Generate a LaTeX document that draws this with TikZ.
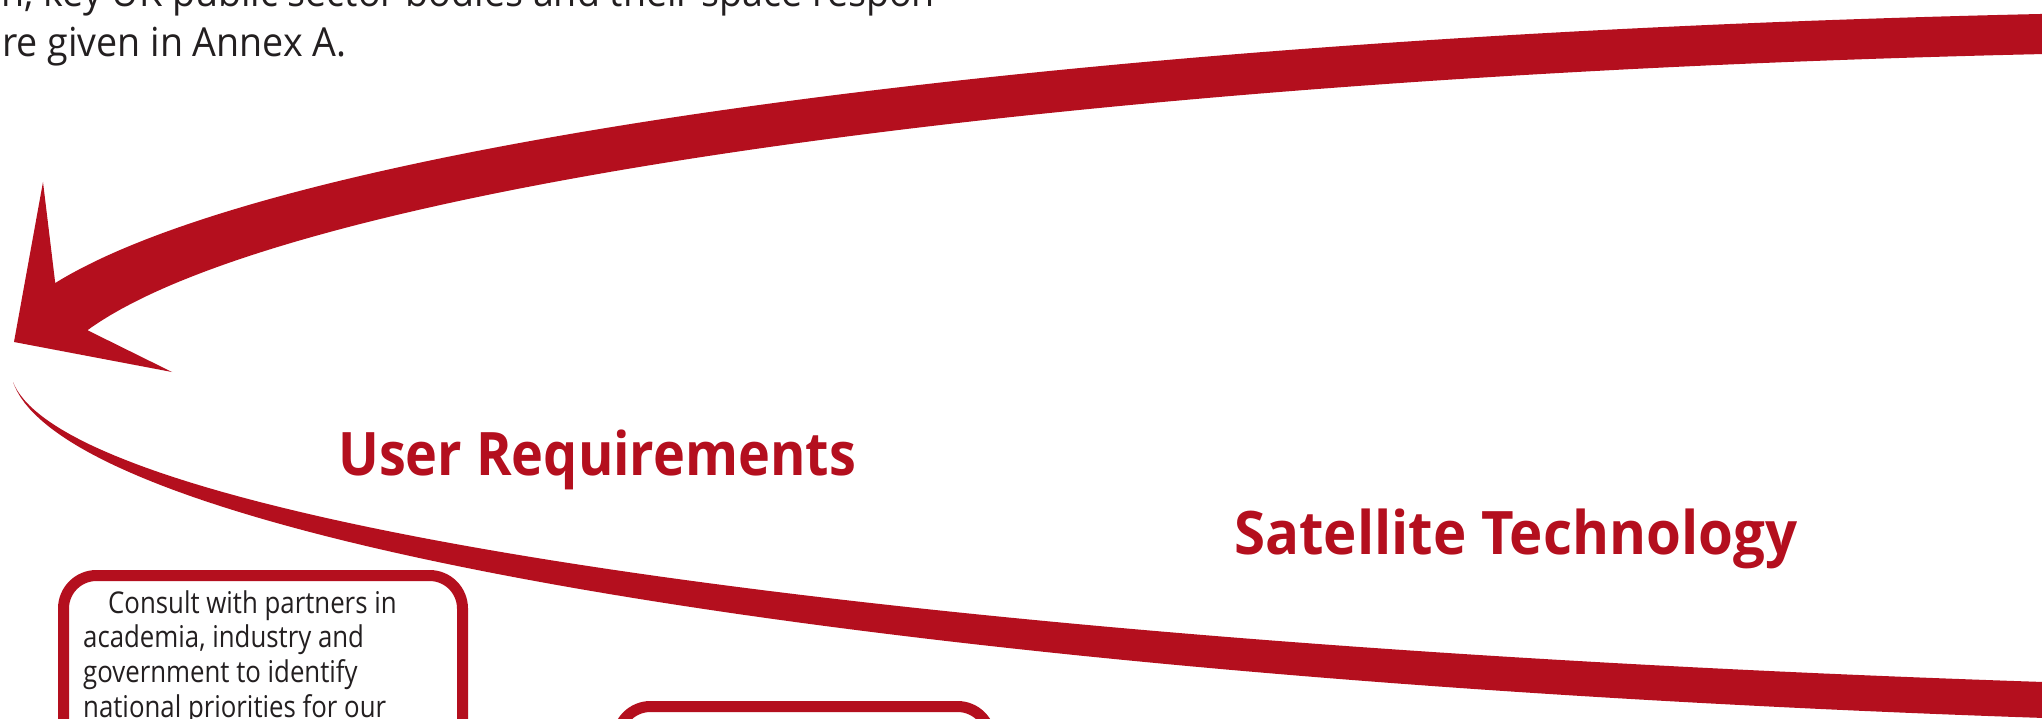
\documentclass[tikz,border=0pt]{standalone}
\usepackage{fontspec}
\setmainfont{Open Sans}
\newfontfamily\bodyfont[FakeStretch=0.86]{Open Sans}
\newfontfamily\topfont[FakeStretch=0.94]{Open Sans}
\newfontfamily\headfontA[FakeStretch=0.90]{Open Sans}
\newfontfamily\headfontB[FakeStretch=0.94]{Open Sans}
\definecolor{brandred}{RGB}{180,15,30}
\definecolor{inkgray}{RGB}{35,31,32}
\tikzset{
  bandfill/.style={fill=brandred, draw=none},
  roundbox/.style={draw=brandred, line width=11, rounded corners=33, fill=none,
    inner sep=0, outer sep=0, anchor=north west},
  toptext/.style={anchor=base west, inner sep=0, text=inkgray,
    font=\topfont\fontsize{40}{50}\selectfont},
  boxtext/.style={anchor=base west, inner sep=0, text=inkgray,
    font=\bodyfont\fontsize{30}{35}\selectfont},
  headline/.style={anchor=base west, inner sep=0, text=brandred}
}
\begin{document}
\begin{tikzpicture}[x=1pt, y=-1pt]
\useasboundingbox (0,0) rectangle (2042,719);
\clip (0,0) rectangle (2042,719);
\fill[white] (0,0) rectangle (2042,719);

% top text
\node[toptext] (t1) at (-8,7) {in, key UK public sector bodies and their space respon};
\node[toptext] (t2) at (2,57) {re given in Annex A.};

% upper sweeping band with arrowhead
\fill[bandfill]
  plot[domain=0:69.5, samples=140] ({2400-2410*cos(82.85-\x)}, {365-355*sin(82.85-\x)})
  -- (43,182) -- (14,342) -- (172,372)
  -- plot[domain=11.5:82.7, samples=140] ({2400-2360*cos(\x)}, {400-350*sin(\x)})
  -- cycle;

% lower tapering band
\fill[bandfill]
  plot[domain=2.7:77.5, samples=160] ({2700-2690*cos(\x)}, {365+364*sin(\x)})
  -- plot[domain=2.7:77.5, samples=160] ({2700-2690*cos(80.2-\x)}, {365+364*sin(80.2-\x)-36*sin(1.2*(77.5-\x))})
  -- cycle;

% headings
\node[headline, font=\headfontA\bfseries\fontsize{60}{70}\selectfont] (user) at (338,475) {User Requirements};
\node[headline, font=\headfontB\bfseries\fontsize{60}{70}\selectfont] (sat) at (1234,554) {Satellite Technology};

% boxes
\node[roundbox, minimum width=399, minimum height=300] (consult) at (63.5,575.5) {};
\node[roundbox, minimum width=373, minimum height=300] (second) at (617.5,706.5) {};

% box text
\node[boxtext] (c1) at (108,613) {Consult with partners in};
\node[boxtext] (c2) at (83,647) {academia, industry and};
\node[boxtext] (c3) at (83,682) {government to identify};
\node[boxtext] (c4) at (83,717) {national priorities for our};
\end{tikzpicture}
\end{document}
